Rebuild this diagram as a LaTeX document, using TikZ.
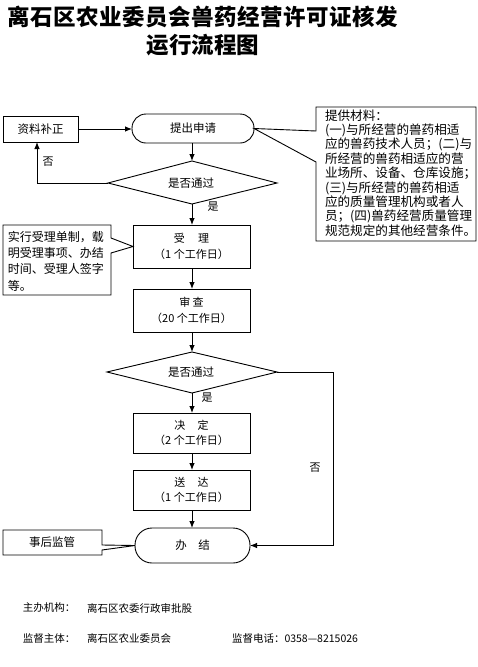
\documentclass[tikz,border=0pt]{standalone}
\usepackage{fontspec}
\setmainfont{Noto Sans CJK SC}
\usetikzlibrary{arrows.meta}
\newcommand\ttlgap{\hspace{0.5pt}}
\tikzset{
  every node/.style={inner sep=0pt, outer sep=0pt},
  flowbox/.style={draw, line width=0.9pt, minimum width=117pt, align=center, font=\fontsize{11}{15.5}\selectfont},
  stadium/.style={draw, line width=0.9pt, align=center, font=\fontsize{11.5}{14}\selectfont},
  sidebox/.style={draw, line width=0.9pt, font=\fontsize{11.5}{14}\selectfont},
  outline/.style={line width=0.9pt, line join=miter},
  arr/.style={line width=0.9pt, -{Latex[length=7pt,width=5.5pt]}},
  lbl/.style={font=\fontsize{11}{13}\selectfont},
  foot/.style={font=\fontsize{10.5}{12}\selectfont, anchor=west},
  notetext/.style={align=left, anchor=north west},
  titletext/.style={font=\fontsize{22.5}{26}\selectfont\bfseries},
}
\begin{document}
\begin{tikzpicture}[x=1pt,y=-1pt]
\useasboundingbox (0,0) rectangle (478,667);

% title
\node[titletext] (t1) at (203,17) {离\ttlgap 石\ttlgap 区\ttlgap 农\ttlgap 业\ttlgap 委\ttlgap 员\ttlgap 会\ttlgap 兽\ttlgap 药\ttlgap 经\ttlgap 营\ttlgap 许\ttlgap 可\ttlgap 证\ttlgap 核\ttlgap 发};
\node[titletext] (t2) at (203,45) {运行流程图};

% main flow
\node[sidebox, minimum width=75pt, minimum height=26pt] (fix) at (40.5,129) {资料补正};
\node[stadium, minimum width=122pt, minimum height=29pt, rounded corners=14pt] (apply) at (193,128.5) {提出申请};

\coordinate (d1n) at (192,161);
\coordinate (d1s) at (192,204);
\coordinate (d1w) at (108,183);
\coordinate (d1e) at (277,183);
\draw[outline] (d1n) -- (d1e) -- (d1s) -- (d1w) -- cycle;
\node[font=\fontsize{11.5}{14}\selectfont] (d1) at (191,183) {是否通过};

\node[flowbox, minimum height=43pt] (accept) at (191.5,246.5) {受\hspace{1.2em}理\\（1 个工作日）};
\node[flowbox, minimum height=43pt] (review) at (191.5,310.5) {审 查\\（20 个工作日）};

\coordinate (d2n) at (192,352);
\coordinate (d2s) at (192,393);
\coordinate (d2w) at (107,372);
\coordinate (d2e) at (277,372);
\draw[outline] (d2n) -- (d2e) -- (d2s) -- (d2w) -- cycle;
\node[font=\fontsize{11.5}{14}\selectfont] (d2) at (191,372) {是否通过};

\node[flowbox, minimum height=40pt] (decide) at (191.5,433) {决\hspace{1.1em}定\\（2 个工作日）};
\node[flowbox, minimum height=40pt] (deliver) at (191.5,490) {送\hspace{1.1em}达\\（1 个工作日）};
\node[stadium, minimum width=115pt, minimum height=35pt, rounded corners=17pt] (finish) at (192.5,545.5) {办\hspace{1em}结};

% connectors
\draw[arr] (fix.east) -- (fix.east -| apply.west);
\draw[arr] (apply.south -| d1n) -- (d1n);
\draw[arr] (d1w) -| ([xshift=-3.5pt]fix.south);
\node[lbl] (no1) at (48,162) {否};
\draw[arr] (d1s) -- (accept.north -| d1s);
\node[lbl] (yes1) at (213,207) {是};
\draw[arr] (accept.south -| d1s) -- (review.north -| d1s);
\draw[arr] (review.south -| d1s) -- (d2n);
\draw[arr] (d2s) -- (decide.north -| d2s);
\node[lbl] (yes2) at (207,398) {是};
\draw[arr] (decide.south -| d2s) -- (deliver.north -| d2s);
\draw[arr] (deliver.south -| d2s) -- (finish.north -| d2s);
\coordinate (d2r) at (333,372);
\draw[outline] (d2e) -- (d2r);
\draw[arr] (d2r) |- (finish.east);
\node[lbl] (no2) at (315,468) {否};

% right note (materials) with callout
\coordinate (tipR) at (apply.east);
\draw[outline] (316,131) -- (316,107) -- (476,107) -- (476,241) -- (316,241) -- (316,162) -- (tipR) -- cycle;
\node[notetext, font=\fontsize{12.6}{14.4}\selectfont] (matl) at (325,109.5) {提供材料：\\
(一)与所经营的兽药相适\\
应的兽药技术人员；(二)与\\
所经营的兽药相适应的营\\
业场所、设备、仓库设施；\\
(三)与所经营的兽药相适\\
应的质量管理机构或者人\\
员；(四)兽药经营质量管理\\
规范规定的其他经营条件。};

% left note (acceptance) with callout
\coordinate (tipL) at (accept.west);
\draw[outline] (111,238) -- (111,225) -- (3,225) -- (3,295) -- (111,295) -- (111,253) -- (tipL) -- cycle;
\node[notetext, font=\fontsize{12}{16.3}\selectfont] (acc) at (8,231) {实行受理单制，载\\明受理事项、办结\\时间、受理人签字\\等。};

% post supervision with callout
\coordinate (tipF) at (finish.west);
\draw[outline] (102,545) -- (102,530) -- (3,530) -- (3,555) -- (102,555) -- (102,550) -- (tipF) -- cycle;
\node[font=\fontsize{11.5}{14}\selectfont] (post) at (52,542.5) {事后监管};

% footer
\node[foot] (f1) at (23,608) {主办机构：};
\node[foot] (f2) at (87,608) {离石区农委行政审批股};
\node[foot] (f3) at (23,638) {监督主体：};
\node[foot] (f4) at (87,638) {离石区农业委员会};
\node[foot] (f5) at (232,638) {监督电话：0358—8215026};
\end{tikzpicture}
\end{document}
